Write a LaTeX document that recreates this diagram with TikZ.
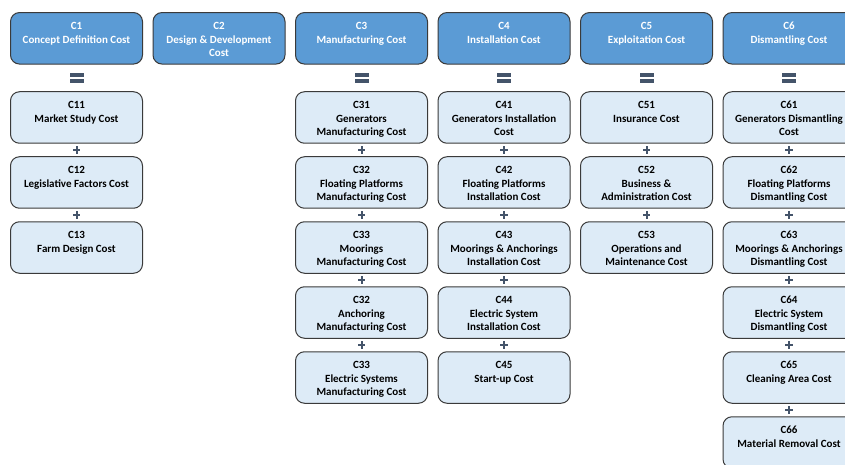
\documentclass[tikz,border=0pt]{standalone}
\usepackage{fontspec}
\setmainfont{Carlito}
\usetikzlibrary{calc}
\definecolor{topfill}{HTML}{5B9BD5}
\definecolor{subfill}{HTML}{DDEBF7}
\definecolor{edgecol}{HTML}{3A3A3A}
\definecolor{signcol}{HTML}{44546A}
\newcommand{\boxtxt}[1]{\parbox[c][51.5pt][t]{132pt}{\centering\rule{0pt}{17pt}#1}}
\tikzset{
  basebox/.style={draw=edgecol, line width=1pt, rounded corners=9pt, inner sep=0pt, outer sep=0pt,
    font=\fontsize{11}{13.5}\selectfont\bfseries},
  topbox/.style={basebox, fill=topfill, text=white},
  subbox/.style={basebox, fill=subfill, text=black},
  pics/eqsign/.style={code={
    \fill[signcol] (-7pt,1pt) rectangle (7pt,5pt);
    \fill[signcol] (-7pt,-1pt) rectangle (7pt,-5pt);}},
  pics/plussign/.style={code={
    \fill[signcol] (-3.6pt,-1pt) rectangle (3.6pt,1pt);
    \fill[signcol] (-1pt,-3.6pt) rectangle (1pt,3.6pt);}},
}
\begin{document}
\begin{tikzpicture}[x=1pt,y=1pt]
\useasboundingbox (0,0) rectangle (845,464);
\clip (0,0) rectangle (845,464);
% top row
\node[topbox] (t1) at (76.5,425.7) {\boxtxt{C1\\Concept Definition Cost}};
\node[topbox] (t2) at (219,425.7) {\boxtxt{C2\\Design \& Development\\Cost}};
\node[topbox] (t3) at (361.5,425.7) {\boxtxt{C3\\Manufacturing Cost}};
\node[topbox] (t4) at (504,425.7) {\boxtxt{C4\\Installation Cost}};
\node[topbox] (t5) at (646.5,425.7) {\boxtxt{C5\\Exploitation Cost}};
\node[topbox] (t6) at (789,425.7) {\boxtxt{C6\\Dismantling Cost}};
% column 1
\node[subbox] (a1) at (76.5,346.5) {\boxtxt{C11\\Market Study Cost}};
\node[subbox] (a2) at (76.5,281.5) {\boxtxt{C12\\Legislative Factors Cost}};
\node[subbox] (a3) at (76.5,216.5) {\boxtxt{C13\\Farm Design Cost}};
% column 3
\node[subbox] (b1) at (361.5,346.5) {\boxtxt{C31\\Generators\\Manufacturing Cost}};
\node[subbox] (b2) at (361.5,281.5) {\boxtxt{C32\\Floating Platforms\\Manufacturing Cost}};
\node[subbox] (b3) at (361.5,216.5) {\boxtxt{C33\\Moorings\\Manufacturing Cost}};
\node[subbox] (b4) at (361.5,151.5) {\boxtxt{C32\\Anchoring\\Manufacturing Cost}};
\node[subbox] (b5) at (361.5,86.5) {\boxtxt{C33\\Electric Systems\\Manufacturing Cost}};
% column 4
\node[subbox] (c1) at (504,346.5) {\boxtxt{C41\\Generators Installation\\Cost}};
\node[subbox] (c2) at (504,281.5) {\boxtxt{C42\\Floating Platforms\\Installation Cost}};
\node[subbox] (c3) at (504,216.5) {\boxtxt{C43\\Moorings \& Anchorings\\Installation Cost}};
\node[subbox] (c4) at (504,151.5) {\boxtxt{C44\\Electric System\\Installation Cost}};
\node[subbox] (c5) at (504,86.5) {\boxtxt{C45\\Start-up Cost}};
% column 5
\node[subbox] (d1) at (646.5,346.5) {\boxtxt{C51\\Insurance Cost}};
\node[subbox] (d2) at (646.5,281.5) {\boxtxt{C52\\Business \&\\Administration Cost}};
\node[subbox] (d3) at (646.5,216.5) {\boxtxt{C53\\Operations and\\Maintenance Cost}};
% column 6
\node[subbox] (e1) at (789,346.5) {\boxtxt{C61\\Generators Dismantling\\Cost}};
\node[subbox] (e2) at (789,281.5) {\boxtxt{C62\\Floating Platforms\\Dismantling Cost}};
\node[subbox] (e3) at (789,216.5) {\boxtxt{C63\\Moorings \& Anchorings\\Dismantling Cost}};
\node[subbox] (e4) at (789,151.5) {\boxtxt{C64\\Electric System\\Dismantling Cost}};
\node[subbox] (e5) at (789,86.5) {\boxtxt{C65\\Cleaning Area Cost}};
\node[subbox] (e6) at (789,21.5) {\boxtxt{C66\\Material Removal Cost}};
% equals signs
\pic at ($(t1.south)!0.5!(a1.north)$) {eqsign};
\pic at ($(t3.south)!0.5!(b1.north)$) {eqsign};
\pic at ($(t4.south)!0.5!(c1.north)$) {eqsign};
\pic at ($(t5.south)!0.5!(d1.north)$) {eqsign};
\pic at ($(t6.south)!0.5!(e1.north)$) {eqsign};
% plus signs
\pic at ($(a1.south)!0.5!(a2.north)$) {plussign};
\pic at ($(a2.south)!0.5!(a3.north)$) {plussign};
\pic at ($(b1.south)!0.5!(b2.north)$) {plussign};
\pic at ($(b2.south)!0.5!(b3.north)$) {plussign};
\pic at ($(b3.south)!0.5!(b4.north)$) {plussign};
\pic at ($(b4.south)!0.5!(b5.north)$) {plussign};
\pic at ($(c1.south)!0.5!(c2.north)$) {plussign};
\pic at ($(c2.south)!0.5!(c3.north)$) {plussign};
\pic at ($(c3.south)!0.5!(c4.north)$) {plussign};
\pic at ($(c4.south)!0.5!(c5.north)$) {plussign};
\pic at ($(d1.south)!0.5!(d2.north)$) {plussign};
\pic at ($(d2.south)!0.5!(d3.north)$) {plussign};
\pic at ($(e1.south)!0.5!(e2.north)$) {plussign};
\pic at ($(e2.south)!0.5!(e3.north)$) {plussign};
\pic at ($(e3.south)!0.5!(e4.north)$) {plussign};
\pic at ($(e4.south)!0.5!(e5.north)$) {plussign};
\pic at ($(e5.south)!0.5!(e6.north)$) {plussign};
\end{tikzpicture}
\end{document}
